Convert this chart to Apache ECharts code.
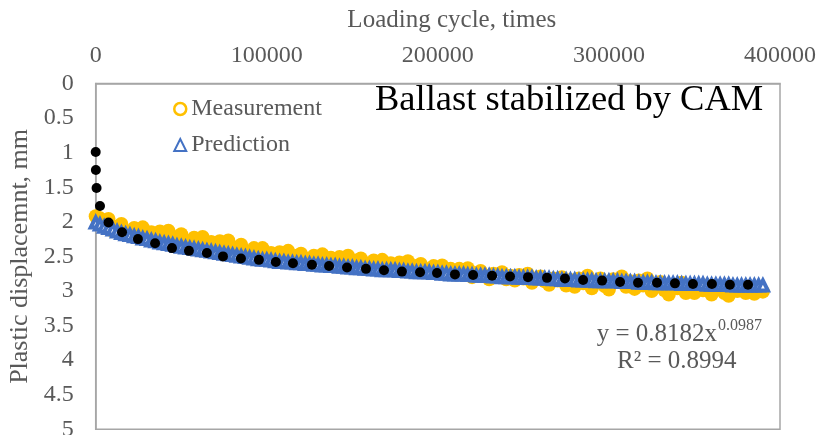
<!DOCTYPE html>
<html>
<head>
<meta charset="utf-8">
<script src="https://cdn.jsdelivr.net/npm/echarts@6/dist/echarts.min.js"></script>
<style>
  html, body { margin: 0; padding: 0; background: #fff; }
  #chart { width: 819px; height: 435px; }
</style>
</head>
<body>
<div id="chart"></div>
<script>
// Loading cycles at which displacement was sampled
const cycles = [0,2500,5000,7500,10000,12500,15000,17500,20000,22500,
  25000,27500,30000,32500,35000,37500,40000,42500,45000,47500,
  50000,52500,55000,57500,60000,62500,65000,67500,70000,72500,
  75000,77500,80000,82500,85000,87500,90000,92500,95000,97500,
  100000,102500,105000,107500,110000,112500,115000,117500,120000,122500,
  125000,127500,130000,132500,135000,137500,140000,142500,145000,147500,
  150000,152500,155000,157500,160000,162500,165000,167500,170000,172500,
  175000,177500,180000,182500,185000,187500,190000,192500,195000,197500,
  200000,202500,205000,207500,210000,212500,215000,217500,220000,222500,
  225000,227500,230000,232500,235000,237500,240000,242500,245000,247500,
  250000,252500,255000,257500,260000,262500,265000,267500,270000,272500,
  275000,277500,280000,282500,285000,287500,290000,292500,295000,297500,
  300000,302500,305000,307500,310000,312500,315000,317500,320000,322500,
  325000,327500,330000,332500,335000,337500,340000,342500,345000,347500,
  350000,352500,355000,357500,360000,362500,365000,367500,370000,372500,
  375000,377500,380000,382500,385000,387500,390000];

// Measured plastic displacement, mm
const measured = [1.92,1.95,2.03,1.96,2.13,2.07,2.03,2.15,2.20,2.09,
  2.14,2.08,2.21,2.15,2.24,2.14,2.21,2.13,2.29,2.22,
  2.18,2.29,2.34,2.23,2.28,2.22,2.35,2.29,2.38,2.28,
  2.35,2.27,2.43,2.37,2.33,2.44,2.49,2.38,2.43,2.38,
  2.50,2.45,2.52,2.44,2.49,2.42,2.55,2.49,2.46,2.53,
  2.58,2.49,2.52,2.47,2.57,2.52,2.59,2.51,2.56,2.49,
  2.62,2.56,2.53,2.60,2.65,2.56,2.59,2.55,2.65,2.60,
  2.67,2.59,2.64,2.57,2.70,2.64,2.61,2.68,2.73,2.64,
  2.67,2.63,2.73,2.68,2.76,2.68,2.73,2.67,2.80,2.74,
  2.71,2.78,2.83,2.75,2.78,2.73,2.83,2.78,2.85,2.77,
  2.82,2.75,2.88,2.82,2.79,2.86,2.91,2.82,2.85,2.80,
  2.92,2.84,2.94,2.82,2.89,2.78,2.96,2.87,2.82,2.93,
  2.98,2.83,2.87,2.79,2.94,2.86,2.97,2.85,2.92,2.82,
  3.00,2.92,2.87,2.99,3.05,2.91,2.96,2.88,3.03,2.95,
  3.03,2.94,2.99,2.92,3.05,2.98,2.94,3.03,3.07,2.97,
  3.00,2.98,3.03,3.00,3.04,2.99,3.01];

// Predicted plastic displacement, mm
const predicted = [2.01,2.04,2.07,2.09,2.11,2.14,2.16,2.18,2.19,2.21,
  2.22,2.24,2.25,2.27,2.28,2.30,2.31,2.32,2.33,2.35,
  2.36,2.37,2.38,2.39,2.40,2.41,2.42,2.43,2.44,2.45,
  2.46,2.47,2.48,2.49,2.50,2.51,2.52,2.53,2.54,2.55,
  2.55,2.56,2.57,2.58,2.58,2.59,2.59,2.60,2.60,2.61,
  2.61,2.62,2.62,2.63,2.63,2.64,2.64,2.65,2.65,2.66,
  2.66,2.67,2.67,2.68,2.68,2.69,2.69,2.70,2.70,2.70,
  2.70,2.71,2.71,2.72,2.72,2.73,2.73,2.73,2.73,2.74,
  2.74,2.75,2.75,2.76,2.76,2.76,2.76,2.77,2.77,2.78,
  2.78,2.78,2.78,2.79,2.79,2.80,2.80,2.80,2.80,2.81,
  2.81,2.81,2.81,2.82,2.82,2.82,2.82,2.83,2.83,2.84,
  2.84,2.84,2.84,2.85,2.85,2.85,2.85,2.86,2.86,2.86,
  2.86,2.86,2.86,2.87,2.87,2.87,2.87,2.88,2.88,2.88,
  2.88,2.89,2.89,2.89,2.89,2.89,2.89,2.90,2.90,2.90,
  2.90,2.90,2.90,2.91,2.91,2.91,2.91,2.91,2.91,2.92,
  2.92,2.92,2.92,2.92,2.92,2.92,2.92];

// Power trend line, shown as a round-dot line
const trendCycles = [10,100,500,2500,7500,15400,24700,34700,44600,54500,65000,74400,84900,95400,105300,115300,126400,136400,146900,158000,168500,179000,189600,199500,210000,220600,231700,242200,252700,263800,274300,284900,296000,306500,317000,328100,338600,349100,360200,370700,381300];
const trendDisp = [0.99,1.25,1.51,1.77,2.01,2.15,2.25,2.31,2.38,2.42,2.45,2.50,2.53,2.55,2.58,2.60,2.62,2.64,2.66,2.68,2.70,2.72,2.73,2.74,2.76,2.77,2.78,2.79,2.80,2.81,2.82,2.84,2.85,2.87,2.88,2.88,2.89,2.90,2.90,2.91,2.91];

// Final-displacement pointer back to the displacement axis
const arrowLevel = 2.98;
const arrowFrom = 385000;
const arrowTo = -2000;

const xTicks = { min: 0, max: 400000, step: 100000 };
const yTicks = { min: 0, max: 5, step: 0.5 };

const serif = '"Liberation Serif", "Times New Roman", serif';
const grey = '#595959';
const orange = '#FFC000';
const blue = '#4472C4';
const frame = '#a6a6a6';

const chart = echarts.init(document.getElementById('chart'), null, { renderer: 'canvas' });

chart.setOption({
  animation: false,
  backgroundColor: '#fff',
  grid: {
    left: 95.7, right: 39, top: 83.5, bottom: 5.7,
    containLabel: false, outerBoundsMode: 'none',
    show: true, borderColor: frame, borderWidth: 1.5, backgroundColor: 'transparent'
  },
  legend: {
    orient: 'vertical',
    left: 173, top: 97, padding: 0,
    itemWidth: 12, itemHeight: 12, itemGap: 12,
    textStyle: { fontFamily: serif, fontSize: 24, color: grey },
    data: [
      { name: 'Measurement', icon: 'circle',
        itemStyle: { color: '#fff', borderColor: orange, borderWidth: 2.5 } },
      { name: 'Prediction', icon: 'triangle',
        itemStyle: { color: '#fff', borderColor: blue, borderWidth: 2 } }
    ]
  },
  xAxis: {
    type: 'value', position: 'top',
    min: xTicks.min, max: xTicks.max, interval: xTicks.step,
    name: 'Loading cycle, times', nameLocation: 'middle', nameGap: 51,
    nameTextStyle: { fontFamily: serif, fontSize: 25, color: grey, padding: [0, 0, 0, 28] },
    axisLine: { show: true, lineStyle: { color: frame, width: 1.5 } },
    axisTick: { show: false },
    splitLine: { show: false },
    axisLabel: { formatter: v => String(v), margin: 16, fontFamily: serif, fontSize: 24, color: grey }
  },
  yAxis: {
    type: 'value', inverse: true,
    min: yTicks.min, max: yTicks.max, interval: yTicks.step,
    name: 'Plastic displacemnt, mm', nameLocation: 'middle', nameGap: 62,
    nameTextStyle: { fontFamily: serif, fontSize: 26, color: grey },
    axisLine: { show: true, lineStyle: { color: frame, width: 1.5 } },
    axisTick: { show: false },
    splitLine: { show: false },
    axisLabel: { margin: 22, fontFamily: serif, fontSize: 24, color: grey }
  },
  graphic: [
    { type: 'text', x: 375, y: 100.5,
      style: { text: 'Ballast stabilized by CAM', font: '36.5px ' + serif, fill: '#000', verticalAlign: 'middle' } },
    { type: 'text', x: 717, y: 334,
      style: { text: 'y = 0.8182x', font: '25px ' + serif, fill: grey, align: 'right', verticalAlign: 'middle' } },
    { type: 'text', x: 718, y: 326,
      style: { text: '0.0987', font: '16px ' + serif, fill: grey, align: 'left', verticalAlign: 'middle' } },
    { type: 'text', x: 617, y: 361,
      style: { text: 'R² = 0.8994', font: '25px ' + serif, fill: grey, align: 'left', verticalAlign: 'middle' } }
  ],
  series: [
    {
      name: 'pointer', type: 'line', data: [], z: 1, silent: true,
      markLine: {
        silent: true, animation: false,
        symbol: ['none', 'arrow'], symbolSize: [11, 16],
        label: { show: false },
        lineStyle: { color: blue, width: 1.8, type: 'solid' },
        data: [[{ coord: [arrowFrom, arrowLevel] }, { coord: [arrowTo, arrowLevel] }]]
      }
    },
    {
      // Markers overlap so densely that the ring outlines merge into a solid ribbon
      name: 'Measurement', type: 'scatter', z: 2,
      symbol: 'circle', symbolSize: 14,
      itemStyle: { color: orange, borderColor: orange, borderWidth: 0, opacity: 1 },
      data: cycles.map((c, i) => [c, measured[i]])
    },
    {
      name: 'Prediction', type: 'scatter', z: 3,
      symbol: 'triangle', symbolSize: 10,
      itemStyle: { color: '#fff', borderColor: blue, borderWidth: 4, opacity: 1 },
      data: cycles.map((c, i) => [c, predicted[i]])
    },
    {
      name: 'Trend', type: 'scatter', z: 4,
      symbol: 'circle', symbolSize: 10,
      itemStyle: { color: '#000', opacity: 1 },
      data: trendCycles.map((c, i) => [c, trendDisp[i]])
    }
  ]
});
</script>
</body>
</html>
